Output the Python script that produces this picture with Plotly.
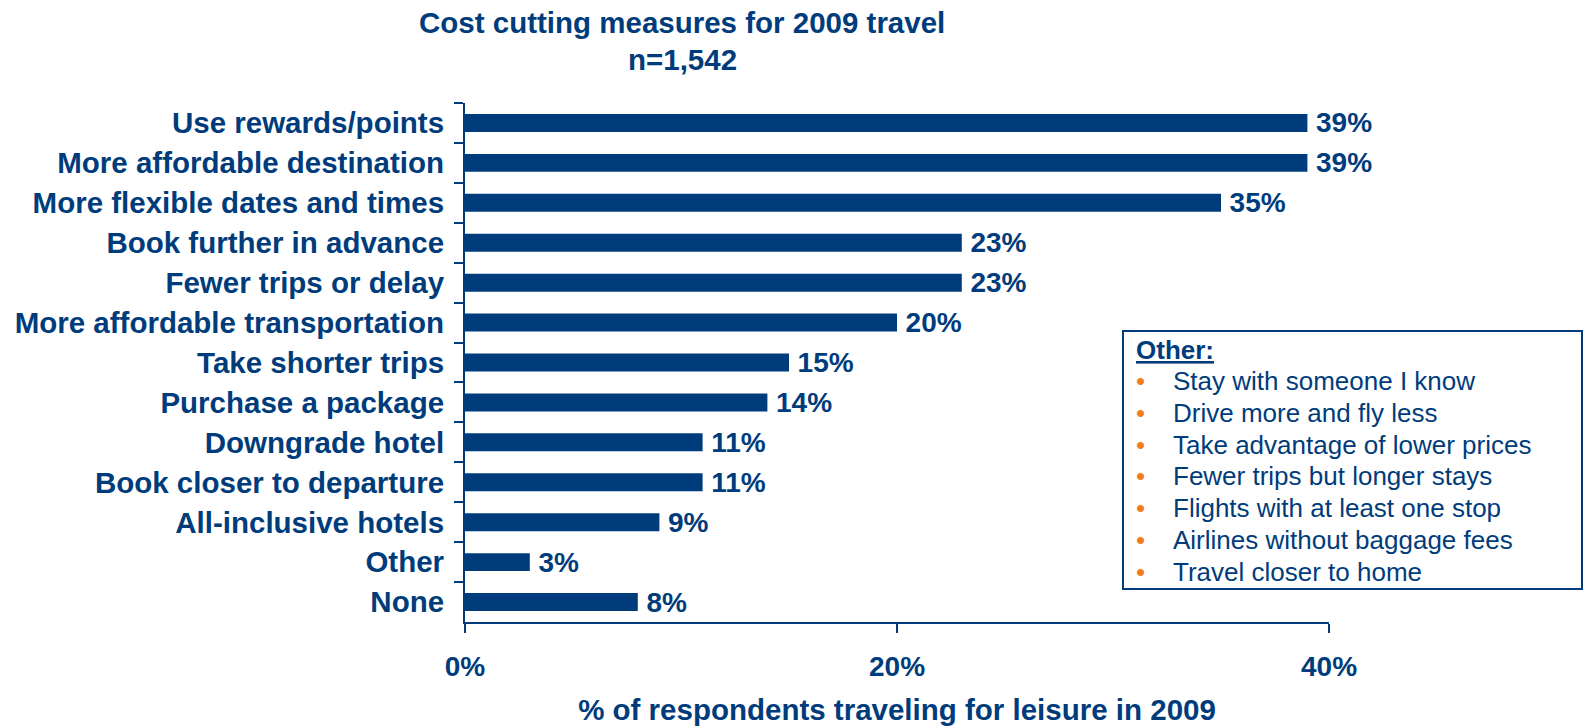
import plotly.graph_objects as go

categories = [
    "Use rewards/points",
    "More affordable destination",
    "More flexible dates and times",
    "Book further in advance",
    "Fewer trips or delay",
    "More affordable transportation",
    "Take shorter trips",
    "Purchase a package",
    "Downgrade hotel",
    "Book closer to departure",
    "All-inclusive hotels",
    "Other",
    "None",
]
values = [39, 39, 35, 23, 23, 20, 15, 14, 11, 11, 9, 3, 8]
x_ticks = [0, 20, 40]
x_tick_labels = ["0%", "20%", "40%"]
other_title = "Other:"
other_items = [
    "Stay with someone I know",
    "Drive more and fly less",
    "Take advantage of lower prices",
    "Fewer trips but longer stays",
    "Flights with at least one stop",
    "Airlines without baggage fees",
    "Travel closer to home",
]
title_line1 = "Cost cutting measures for 2009 travel"
title_line2 = "n=1,542"
x_title = "% of respondents traveling for leisure in 2009"

NAVY = "#003C7B"
ORANGE = "#F47B20"
FONT = "Liberation Sans, Arial, sans-serif"

# plot area in pixels
L, R, T, B = 465, 1329, 103, 622
W, H = 1585, 727


def px(x):
    return (x - L) / (R - L)


def py(y):
    return (B - y) / (B - T)


fig = go.Figure()
fig.add_trace(go.Bar(
    y=categories,
    x=values,
    orientation="h",
    marker=dict(color=NAVY, line=dict(width=0)),
    text=[f"\u2009{v}%" for v in values],
    textposition="outside",
    constraintext="none",
    textfont=dict(family=FONT, size=28, color=NAVY, weight="bold"),
    cliponaxis=False,
    hoverinfo="skip",
))

annotations = [
    dict(text=f"<b>{title_line1}</b>", x=px(682), y=py(23), xref="paper", yref="paper",
         xanchor="center", yanchor="middle", showarrow=False,
         font=dict(family=FONT, size=29.5, color=NAVY)),
    dict(text=f"<b>{title_line2}</b>", x=px(682), y=py(60), xref="paper", yref="paper",
         xanchor="center", yanchor="middle", showarrow=False,
         font=dict(family=FONT, size=29.5, color=NAVY)),
    dict(text=f"<b><u>{other_title}</u></b>", x=px(1134), y=py(350), xref="paper", yref="paper",
         xanchor="left", yanchor="middle", showarrow=False,
         font=dict(family=FONT, size=26, color=NAVY)),
]
for i, item in enumerate(other_items):
    yc = 381 + i * 31.8
    annotations.append(dict(text="•", x=px(1140), y=py(yc), xref="paper", yref="paper",
                            xanchor="center", yanchor="middle", showarrow=False,
                            font=dict(family=FONT, size=26, color=ORANGE)))
    annotations.append(dict(text=item, x=px(1171), y=py(yc), xref="paper", yref="paper",
                            xanchor="left", yanchor="middle", showarrow=False,
                            font=dict(family=FONT, size=26, color=NAVY)))

fig.update_layout(
    width=W, height=H,
    margin=dict(l=L, r=W - R, t=T, b=H - B, pad=0),
    paper_bgcolor="white",
    plot_bgcolor="white",
    showlegend=False,
    bargap=0.55,
    font=dict(family=FONT, color=NAVY),
    annotations=annotations,
    shapes=[dict(type="rect", xref="paper", yref="paper",
                 x0=px(1123), x1=px(1582), y0=py(589), y1=py(331),
                 line=dict(color=NAVY, width=2), fillcolor="rgba(0,0,0,0)")],
)
fig.update_xaxes(
    range=[0, 40],
    automargin=False,
    tickmode="array", tickvals=x_ticks, ticktext=x_tick_labels,
    ticks="outside", ticklen=9, tickwidth=2, tickcolor=NAVY,
    showline=True, linecolor=NAVY, linewidth=2,
    showgrid=False, zeroline=False,
    tickfont=dict(family=FONT, size=28, color=NAVY, weight="bold"),
    ticklabelstandoff=9,
    title=dict(text=x_title, standoff=19,
               font=dict(family=FONT, size=29.5, color=NAVY, weight="bold")),
)
fig.update_yaxes(
    type="category",
    autorange="reversed",
    automargin=False,
    ticks="outside", ticklen=9, tickwidth=2, tickcolor=NAVY,
    tickson="boundaries",
    showline=True, linecolor=NAVY, linewidth=2,
    showgrid=False, zeroline=False,
    tickfont=dict(family=FONT, size=29.5, color=NAVY, weight="bold"),
    ticklabelstandoff=13,
)

fig.write_html(
    "out.html",
    config={"displayModeBar": False},
    post_script="document.body.style.margin='0';document.body.style.overflow='hidden';",
)
